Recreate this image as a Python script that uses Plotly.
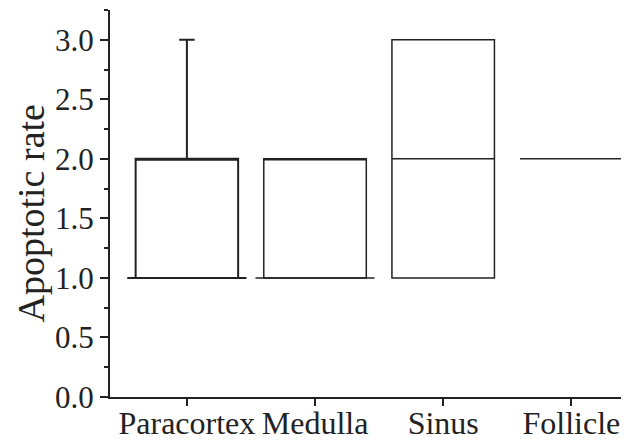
import plotly.graph_objects as go

categories = ["Paracortex", "Medulla", "Sinus", "Follicle"]
q1 = [1, 1, 1, 2]
median = [2, 2, 2, 2]
q3 = [2, 2, 3, 2]
lower = [1, 1, 1, 2]
upper = [3, 2, 3, 2]
min_mark = [1, 1, None, None]
y_ticks = [0.0, 0.5, 1.0, 1.5, 2.0, 2.5, 3.0]
y_title = "Apoptotic rate"

positions = list(range(len(categories)))
ink = "#222222"
font = "Liberation Serif, Times New Roman, serif"

fig = go.Figure()
for i, name in enumerate(categories):
    fig.add_trace(go.Box(
        x=[positions[i]], q1=[q1[i]], median=[median[i]], q3=[q3[i]],
        lowerfence=[lower[i]], upperfence=[upper[i]],
        width=0.8, whiskerwidth=0.15,
        fillcolor="rgba(0,0,0,0)",
        line=dict(color=ink, width=2 if i == 0 else 1.5),
        boxpoints=False, showlegend=False, hoverinfo="skip", name=name,
    ))
    if min_mark[i] is not None:
        fig.add_trace(go.Scatter(
            x=[positions[i] - 0.465, positions[i] + 0.465],
            y=[min_mark[i], min_mark[i]],
            mode="lines", line=dict(color=ink, width=2 if i == 0 else 1.5),
            showlegend=False, hoverinfo="skip",
        ))

# page body has an 8px default margin, so the figure is sized to fit inside it
fig.update_layout(
    width=621, height=435,
    margin=dict(l=102, r=0, t=2, b=46),
    paper_bgcolor="white", plot_bgcolor="white",
    font=dict(family=font, color=ink),
    showlegend=False,
)
fig.add_annotation(
    text=y_title, xref="paper", yref="paper", x=0, y=0.5,
    xanchor="center", yanchor="middle", xshift=-80, yshift=-10,
    textangle=-90, showarrow=False,
    font=dict(size=38, family=font, color=ink),
)
fig.update_xaxes(
    range=[-0.6, 3.45], tickmode="array", tickvals=positions, ticktext=categories,
    showgrid=False, zeroline=False, showline=True, linecolor=ink, linewidth=2,
    ticks="outside", ticklen=7, tickwidth=2, tickcolor=ink,
    tickfont=dict(size=32, family=font, color=ink),
    ticklabelstandoff=-10, automargin=False,
)
fig.update_yaxes(
    range=[0, 3.25], tickmode="array", tickvals=y_ticks,
    ticktext=[f"{v:.1f}" for v in y_ticks],
    showgrid=False, zeroline=False, showline=True, linecolor=ink, linewidth=2,
    ticks="outside", ticklen=8, tickwidth=2, tickcolor=ink,
    minor=dict(dtick=0.25, ticks="outside", ticklen=4, tickwidth=2, tickcolor=ink),
    tickfont=dict(size=31, family=font, color=ink),
    automargin=False,
)

fig.write_html("out.html")
